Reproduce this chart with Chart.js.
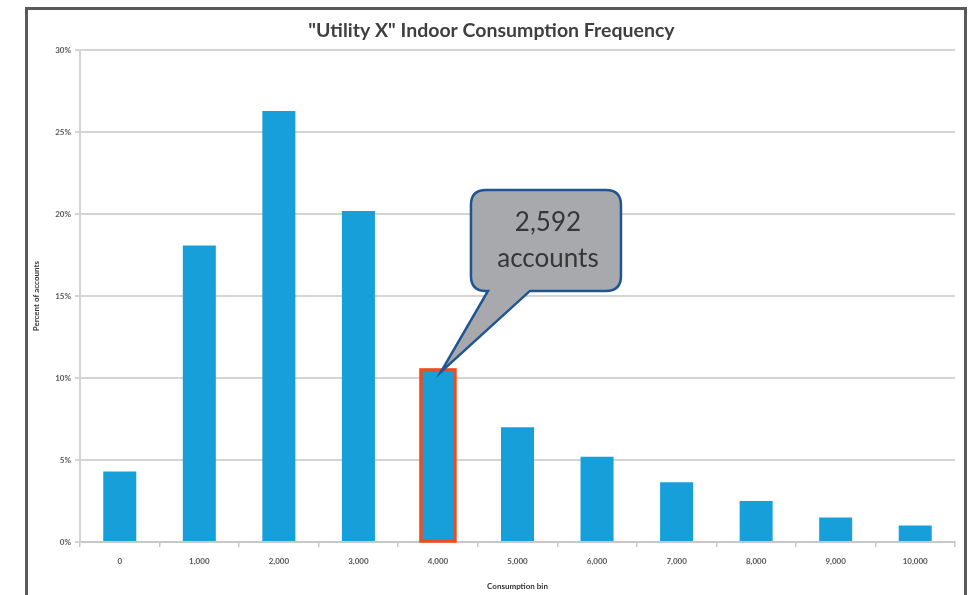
<!DOCTYPE html>
<html>
<head>
<meta charset="utf-8">
<script src="https://cdn.jsdelivr.net/npm/chart.js@4.4.0/dist/chart.umd.min.js"></script>
<style>
  html, body { margin: 0; padding: 0; background: #ffffff; }
  body { width: 980px; height: 595px; position: relative; overflow: hidden; }
  #frame { position: absolute; left: 25px; top: 7px; width: 936px; height: 600px;
           border: 3px solid #5a5a5a; border-bottom: none; box-sizing: content-box; }
  #wrap { position: absolute; left: 28px; top: 10px; width: 934px; height: 585px; }
</style>
</head>
<body>
<div id="frame"></div>
<div id="wrap"><canvas id="c" width="934" height="585"></canvas></div>
<script>
const categories = ["0", "1,000", "2,000", "3,000", "4,000", "5,000", "6,000", "7,000", "8,000", "9,000", "10,000"];
const percentOfAccounts = [4.3, 18.1, 26.3, 20.2, 10.5, 7.0, 5.2, 3.65, 2.5, 1.5, 1.0];
const yTicks = [0, 5, 10, 15, 20, 25, 30];
const highlightIndex = 4;
const calloutLines = ["2,592", "accounts"];
const titleText = '"Utility X" Indoor Consumption Frequency';
const xTitle = "Consumption bin";
const yTitle = "Percent of accounts";

const calloutPlugin = {
  id: 'callout',
  afterDatasetsDraw(chart) {
    const ctx = chart.ctx;
    const bar = chart.getDatasetMeta(0).data[highlightIndex];
    const p = bar.getProps(['x', 'y', 'base', 'width'], true);
    // highlight outline
    ctx.save();
    ctx.strokeStyle = '#ee4d22';
    ctx.lineWidth = 3.5;
    ctx.strokeRect(p.x - p.width / 2 - 0.5, p.y, p.width + 1, p.base - p.y);
    ctx.restore();

    // callout box
    const tipX = p.x + 3, tipY = p.y + 2;
    const bx = p.x + 33, by = p.y - 180, bw = 150, bh = 101, r = 15;
    const t1 = p.x + 50, t2 = p.x + 92;
    ctx.save();
    ctx.beginPath();
    ctx.moveTo(bx + r, by);
    ctx.lineTo(bx + bw - r, by);
    ctx.quadraticCurveTo(bx + bw, by, bx + bw, by + r);
    ctx.lineTo(bx + bw, by + bh - r);
    ctx.quadraticCurveTo(bx + bw, by + bh, bx + bw - r, by + bh);
    ctx.lineTo(t2, by + bh);
    ctx.lineTo(tipX, tipY);
    ctx.lineTo(t1, by + bh);
    ctx.lineTo(bx + r, by + bh);
    ctx.quadraticCurveTo(bx, by + bh, bx, by + bh - r);
    ctx.lineTo(bx, by + r);
    ctx.quadraticCurveTo(bx, by, bx + r, by);
    ctx.closePath();
    ctx.fillStyle = '#a8a9ad';
    ctx.fill();
    ctx.lineWidth = 2.5;
    ctx.strokeStyle = '#1f5592';
    ctx.stroke();
    ctx.fillStyle = '#363636';
    ctx.font = '26px Lato, "Open Sans", sans-serif';
    ctx.textAlign = 'center';
    ctx.textBaseline = 'middle';
    ctx.fillText(calloutLines[0], bx + bw / 2 + 2, by + 33);
    ctx.fillText(calloutLines[1], bx + bw / 2 + 2, by + 69);
    ctx.restore();
  }
};

new Chart(document.getElementById('c'), {
  type: 'bar',
  data: {
    labels: categories,
    datasets: [{
      data: percentOfAccounts,
      backgroundColor: '#169fd8',
      borderWidth: 0,
      barPercentage: 0.415,
      categoryPercentage: 1.0
    }]
  },
  options: {
    responsive: false,
    animation: false,
    devicePixelRatio: 1,
    layout: { padding: { left: 0, right: 7, top: 0, bottom: 0 } },
    plugins: {
      legend: { display: false },
      tooltip: { enabled: false },
      title: {
        display: true,
        text: titleText,
        color: '#3f3f3f',
        font: { family: 'Lato, "Open Sans", sans-serif', size: 19.5, weight: 'bold' },
        padding: { top: 9, bottom: 8 }
      }
    },
    scales: {
      x: {
        grid: { display: true, drawOnChartArea: false, drawTicks: true, tickLength: 5, color: '#c8c8c8', lineWidth: 1.5, offset: true },
        border: { display: true, color: '#c8c8c8', width: 2 },
        ticks: { color: '#555555', font: { family: 'Lato, sans-serif', size: 8, weight: 'bold' }, padding: 10, maxRotation: 0 },
        title: { display: true, text: xTitle, color: '#333333', font: { family: 'Lato, sans-serif', size: 8, weight: 'bold' }, padding: { top: 6 } },
        afterFit(scale) { scale.height = 53; }
      },
      y: {
        min: 0, max: 30,
        afterBuildTicks(scale) { scale.ticks = yTicks.map(v => ({ value: v })); },
        grid: { color: '#d4d4d4', lineWidth: 2, drawTicks: true, tickLength: 5 },
        border: { display: true, color: '#d4d4d4', width: 2 },
        ticks: { color: '#555555', font: { family: 'Lato, sans-serif', size: 8, weight: 'bold' }, padding: 4,
                 callback: v => v + '%' },
        title: { display: true, text: yTitle, color: '#333333', font: { family: 'Lato, sans-serif', size: 8, weight: 'bold' }, padding: { bottom: 0 } },
        afterFit(scale) { scale.width = 52; }
      }
    }
  },
  plugins: [calloutPlugin]
});
</script>
</body>
</html>
